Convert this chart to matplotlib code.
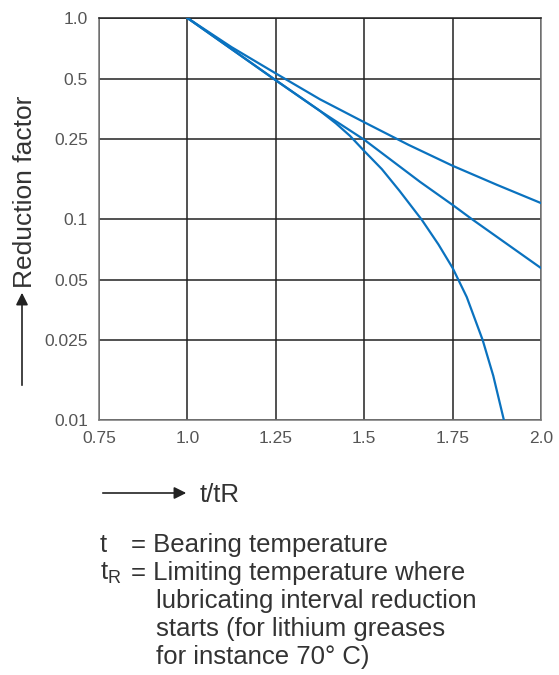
import matplotlib.pyplot as plt
import matplotlib.ticker as mticker

plt.rcParams['font.family'] = ['Liberation Sans', 'DejaVu Sans']

# curves (t/tR, reduction factor)
t_top = [1.0, 1.125, 1.25, 1.375, 1.5, 1.625, 1.75, 1.875, 2.0]
f_top = [1.0, 0.716, 0.53, 0.394, 0.303, 0.234, 0.184, 0.148, 0.12]

t_mid = [1.0, 1.25, 1.375, 1.5, 1.658, 1.75, 1.804, 1.941, 2.0]
f_mid = [1.0, 0.49, 0.345, 0.248, 0.153, 0.1175, 0.1, 0.0675, 0.057]

t_low = [1.0, 1.25, 1.375, 1.42, 1.46, 1.5, 1.55, 1.6, 1.663, 1.71, 1.75, 1.79, 1.835, 1.865, 1.895]
f_low = [1.0, 0.49, 0.345, 0.299, 0.259, 0.218, 0.177, 0.138, 0.099, 0.0747, 0.0571, 0.0409, 0.025, 0.0166, 0.01]

xticks = [0.75, 1.0, 1.25, 1.5, 1.75, 2.0]
xlabels = ["0.75", "1.0", "1.25", "1.5", "1.75", "2.0"]
yticks = [0.01, 0.025, 0.05, 0.1, 0.25, 0.5, 1.0]
ylabels = ["0.01", "0.025", "0.05", "0.1", "0.25", "0.5", "1.0"]

blue = "#0a72bf"
grey = "#555555"
tc = "#333333"
fs = 18.5

fig = plt.figure(figsize=(5.59, 6.75), dpi=100)
ax = fig.add_axes([99 / 559, 1 - 420 / 675, 442 / 559, 402 / 675])

for t, f in [(t_top, f_top), (t_mid, f_mid), (t_low, f_low)]:
    ax.plot(t, f, color=blue, lw=1.6, zorder=3)

ax.set_yscale("log")
ax.set_xlim(0.75, 2.0)
ax.set_ylim(0.01, 1.0)
ax.set_xticks(xticks)
ax.set_xticklabels(xlabels)
ax.set_yticks(yticks)
ax.set_yticklabels(ylabels)
ax.yaxis.set_minor_locator(mticker.NullLocator())
ax.tick_params(length=0, labelsize=12.5, colors=grey, pad=8)
ax.grid(True, color="#222222", lw=1.1)
for s in ax.spines.values():
    s.set_color("#777777")
    s.set_linewidth(1.1)
ax.spines["top"].set_color("#222222")

# y axis caption with arrow
fig.text(25 / 559, 1 - 192 / 675, "Reduction factor", rotation=90,
         ha="center", va="center", fontsize=19, color=tc)
fig.add_artist(plt.Annotation("", xy=(22 / 559, 1 - 290 / 675), xycoords="figure fraction",
                              xytext=(22 / 559, 1 - 388 / 675), textcoords="figure fraction",
                              arrowprops=dict(arrowstyle="-|>", color="#222222", lw=1.2,
                                              mutation_scale=18)))

# x axis caption with arrow
fig.add_artist(plt.Annotation("", xy=(189 / 559, 1 - 493 / 675), xycoords="figure fraction",
                              xytext=(100 / 559, 1 - 493 / 675), textcoords="figure fraction",
                              arrowprops=dict(arrowstyle="-|>", color="#222222", lw=1.2,
                                              mutation_scale=18)))
fig.text(200 / 559, 1 - 502 / 675, "t/tR", ha="left", va="baseline",
         fontsize=fs, color=tc)

# explanation text
fig.text(100 / 559, 1 - 552 / 675, "t", ha="left", va="baseline", fontsize=fs, color=tc)
fig.text(100 / 559, 1 - 580 / 675, r"t$_\mathregular{R}$", ha="left", va="baseline", fontsize=fs, color=tc)
fig.text(131 / 559, 1 - 552 / 675, "= Bearing temperature", ha="left", va="baseline", fontsize=fs, color=tc)
fig.text(131 / 559, 1 - 580 / 675, "= Limiting temperature where", ha="left", va="baseline", fontsize=fs, color=tc)
lines = ["lubricating interval reduction", "starts (for lithium greases", "for instance 70° C)"]
for i, ln in enumerate(lines):
    fig.text(156 / 559, 1 - (608 + 28 * i) / 675, ln, ha="left", va="baseline", fontsize=fs, color=tc)

fig.savefig("out.png", dpi=100)
